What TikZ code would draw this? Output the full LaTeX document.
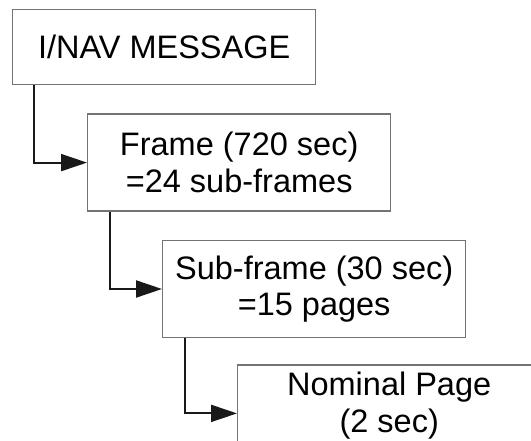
\documentclass[tikz,border=0pt]{standalone}
\usepackage{fontspec}
\setmainfont{Liberation Sans}
\usetikzlibrary{arrows.meta,positioning}

\begin{document}
\begin{tikzpicture}[x=1pt,y=1pt]
\tikzstyle{box}=[rectangle, draw=black!55, line width=1.4pt, minimum width=303pt, minimum height=97pt, inner sep=0pt, align=center, font=\fontsize{32.5}{36.5}\selectfont]
\tikzstyle{headbox}=[box, minimum height=75pt]
\tikzstyle{connect}=[-{Triangle[length=26pt,width=17pt]}, line width=2pt, black!90]

  \useasboundingbox (0,0) rectangle (531,-441);
  \clip (0,0) rectangle (531,-441);

  \node[headbox, anchor=north west] (msg) at (12,-9) {I/NAV MESSAGE};
  \node[box] (frame) [below=28pt of msg.south west, anchor=north west, xshift=75pt] {Frame (720 sec)\\=24 sub-frames};
  \node[box] (sub) [below=28pt of frame.south west, anchor=north west, xshift=75pt] {Sub-frame (30 sec)\\=15 pages};
  \node[box, minimum height=81pt] (page) [below=26pt of sub.south west, anchor=north west, xshift=75pt] {Nominal Page\\(2 sec)};

  \draw[connect] ([xshift=22pt]msg.south west) |- (frame.west);
  \draw[connect] ([xshift=23pt]frame.south west) |- (sub.west);
  \draw[connect] ([xshift=23pt]sub.south west) |- ([yshift=-8pt]page.west);

\end{tikzpicture}
\end{document}
